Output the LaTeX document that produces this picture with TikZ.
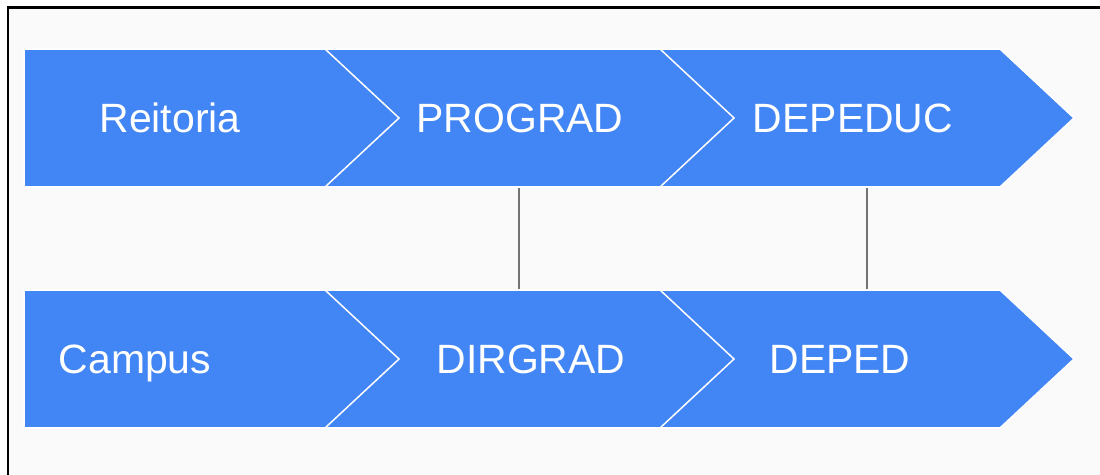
\documentclass[tikz,border=0pt]{standalone}
\usepackage{fontspec}
\setmainfont{Liberation Sans}
\usepackage{tikz}
\usetikzlibrary{shapes.symbols, positioning}

\definecolor{etapa}{HTML}{4285F4}
\definecolor{fundo}{HTML}{FAFAFA}

\begin{document}
\begin{tikzpicture}[
    x=0.02cm, y=-0.02cm,
    fase/.style={
      signal,
      signal to=east,
      signal pointer angle=86,
      fill=etapa,
      draw=white,
      line width=0.03cm,
      inner sep=0pt,
      minimum height=2.76cm
    },
    inicio/.style={fase, signal from=nowhere, minimum width=8.24cm},
    meio/.style={fase, signal from=west},
    rotulo/.style={
      text=white,
      text height=0.587cm,
      text depth=0cm,
      font=\fontsize{23.3}{26}\selectfont
    },
    link/.style={draw=black!55, line width=0.04cm}
  ]
    \useasboundingbox (0,0) rectangle (1100,475);
    \clip (0,0) rectangle (1100,475);
    \fill[white] (0,0) rectangle (1100,475);
    \draw[fill=fundo, line width=0.06cm] (8,8) rectangle (1120,495);

    % linha de cima
    \node[inicio, label={[rotulo, xshift=-0.46cm]center:Reitoria}] (reitoria) at (193,118) {};
    \node[meio, minimum width=8.2cm, label={[rotulo, xshift=-0.2cm]center:PROGRAD}] (prograd) at (530,118) {};
    \node[meio, minimum width=8.28cm, label={[rotulo, xshift=-0.28cm]center:DEPEDUC}] (depeduc) at (867,118) {};

    % linha de baixo
    \node[inicio, label={[rotulo, xshift=-1.16cm]center:Campus}] (campus) at (193,359) {};
    \node[meio, minimum width=8.2cm, label={[rotulo, xshift=0.02cm]center:DIRGRAD}] (dirgrad) at (530,359) {};
    \node[meio, minimum width=8.28cm, label={[rotulo, xshift=-0.54cm]center:DEPED}] (deped) at (867,359) {};

    \draw[link] ([xshift=-0.22cm]prograd.south) -- ([xshift=-0.22cm]dirgrad.north);
    \draw[link] (depeduc.south) -- (deped.north);
  \end{tikzpicture}
\end{document}
